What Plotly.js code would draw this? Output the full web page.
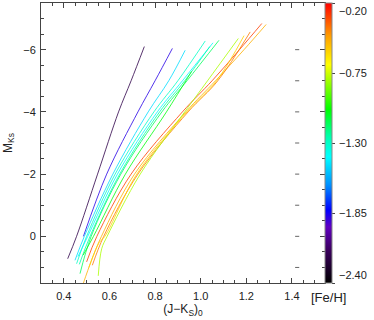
<!DOCTYPE html>
<html>
<head>
<meta charset="utf-8">
<script src="https://cdn.plot.ly/plotly-3.0.1.min.js"></script>
<style>
  html, body { margin: 0; padding: 0; background: #fff; }
  #chart { width: 374px; height: 320px; }
</style>
</head>
<body>
<div id="chart"></div>
<script>
// RGB fiducial lines in the (J-Ks)0 vs M_Ks plane, coloured by cluster [Fe/H].

// [Fe/H] of each line
const FEH = [-2.20, -1.88, -1.48, -1.30, -1.42, -1.15, -1.25, -1.05, -0.30, -0.50, -0.40, -0.80, -0.58];

// colour (J-Ks)0 along each line
const LINE_X = [
  [0.417, 0.456, 0.548, 0.640, 0.695, 0.753],
  [0.486, 0.588, 0.725, 0.800, 0.876],
  [0.449, 0.490, 0.615, 0.770, 0.860, 0.932],
  [0.456, 0.500, 0.625, 0.795, 0.900, 1.020],
  [0.462, 0.505, 0.635, 0.810, 0.920, 1.054],
  [0.471, 0.520, 0.650, 0.830, 0.940, 1.080],
  [0.468, 0.515, 0.645, 0.820, 0.930, 1.040],
  [0.485, 0.530, 0.670, 0.850, 0.960],
  [0.500, 0.545, 0.695, 0.920, 1.050, 1.170, 1.268],
  [0.486, 0.520, 0.565, 0.710, 0.935, 1.065, 1.190, 1.287],
  [0.525, 0.575, 0.725, 0.945, 1.075, 1.217],
  [0.551, 0.566, 0.590, 0.735, 0.930, 1.030, 1.165],
  [0.510, 0.555, 0.580, 0.720, 0.940, 1.070, 1.190]
];

// absolute magnitude M_Ks along each line
const LINE_M = [
  [0.72, 0.0, -2.0, -4.0, -5.0, -6.10],
  [0.0, -2.0, -4.0, -5.0, -6.04],
  [0.77, 0.0, -2.0, -4.0, -5.0, -5.98],
  [0.88, 0.0, -2.0, -4.0, -5.0, -6.28],
  [0.65, 0.0, -2.0, -4.0, -5.0, -6.22],
  [1.20, 0.0, -2.0, -4.0, -5.0, -6.30],
  [0.90, 0.0, -2.0, -4.0, -5.0, -6.10],
  [0.60, 0.0, -2.0, -4.0, -5.30],
  [0.82, 0.0, -2.0, -4.0, -5.0, -6.0, -6.84],
  [1.50, 0.80, 0.0, -2.0, -4.0, -5.0, -6.0, -6.81],
  [0.93, 0.0, -2.0, -4.0, -5.0, -6.57],
  [1.27, 0.40, 0.0, -2.0, -4.0, -5.0, -6.36],
  [1.00, 0.20, 0.0, -2.0, -4.0, -5.0, -6.45]
];

const FEH_TICKS = [-2.40, -1.85, -1.30, -0.75, -0.20];
const X_TICKS = [0.4, 0.6, 0.8, 1.0, 1.2, 1.4];
const Y_TICKS = [-6, -4, -2, 0];
const RIGHT_DASH_M = [-6, -5, -4, -3, -2, -1, 0, 1];

const FEH_MIN = -2.40, FEH_MAX = -0.20;
const SCALE = [
  [0.00, '#000000'], [0.12, '#3c0060'], [0.20, '#6000c0'], [0.26, '#0000ff'],
  [0.35, '#0090ff'], [0.45, '#00ffff'], [0.52, '#00ffb0'], [0.62, '#00ff00'],
  [0.78, '#ffff00'], [0.88, '#ffa000'], [1.00, '#ff0000']
];

function hexRgb(h) {
  return [1, 3, 5].map(i => parseInt(h.slice(i, i + 2), 16));
}
function fehColor(v) {
  const t = Math.min(1, Math.max(0, (v - FEH_MIN) / (FEH_MAX - FEH_MIN)));
  for (let i = 1; i < SCALE.length; i++) {
    if (t <= SCALE[i][0]) {
      const f = (t - SCALE[i - 1][0]) / (SCALE[i][0] - SCALE[i - 1][0]);
      const a = hexRgb(SCALE[i - 1][1]), b = hexRgb(SCALE[i][1]);
      const c = a.map((ai, k) => Math.round(ai + f * (b[k] - ai)));
      return 'rgb(' + c.join(',') + ')';
    }
  }
  return SCALE[SCALE.length - 1][1];
}

const traces = FEH.map((feh, i) => ({
  x: LINE_X[i], y: LINE_M[i], type: 'scatter', mode: 'lines',
  line: { color: fehColor(feh), width: 0.8, shape: 'spline', smoothing: 1 },
  hoverinfo: 'skip'
}));

// dummy trace that only carries the colour bar; its labels are annotations below
traces.push({
  x: [null, null], y: [null, null], type: 'scatter', mode: 'markers',
  hoverinfo: 'skip',
  marker: {
    color: [FEH_MIN, FEH_MAX], cmin: FEH_MIN, cmax: FEH_MAX, colorscale: SCALE,
    showscale: true,
    colorbar: {
      x: 1, xanchor: 'left', xpad: 0, y: 0.5, yanchor: 'middle', ypad: 0,
      len: 1, lenmode: 'fraction', thickness: 7, thicknessmode: 'pixels',
      outlinewidth: 1, outlinecolor: '#888', borderwidth: 0,
      tickvals: FEH_TICKS, ticks: 'outside', ticklen: 3, tickcolor: '#444',
      showticklabels: false
    }
  }
});

const shapes = RIGHT_DASH_M.map(m => ({
  type: 'line', xref: 'x', yref: 'y', x0: 1.414, x1: 1.432, y0: m, y1: m,
  line: { color: '#666', width: 1 }
}));

const cbLabels = FEH_TICKS.map((v, i) => ({
  text: '\u2212' + Math.abs(v).toFixed(2),
  xref: 'paper', yref: 'paper', x: 1.042, y: (v - FEH_MIN) / (FEH_MAX - FEH_MIN),
  xanchor: 'left', yanchor: i === 0 ? 'bottom' : (i === FEH_TICKS.length - 1 ? 'top' : 'middle'),
  showarrow: false, font: { size: 11, color: '#222' }
}));

const axisStyle = {
  showline: true, linecolor: '#444', linewidth: 1, mirror: 'ticks',
  ticks: 'inside', ticklen: 5, tickcolor: '#444',
  showgrid: false, zeroline: false, automargin: false,
  tickfont: { size: 11, color: '#222' }
};

const layout = {
  width: 374, height: 320,
  margin: { l: 41, r: 49, t: 3, b: 37 },
  paper_bgcolor: '#fff', plot_bgcolor: '#fff',
  font: { family: 'Liberation Sans, Arial, sans-serif', size: 11, color: '#222' },
  showlegend: false,
  xaxis: Object.assign({}, axisStyle, {
    range: [0.3, 1.545], tickvals: X_TICKS, tickformat: '.1f',
    minor: { dtick: 0.05, tick0: 0.3, ticks: 'inside', ticklen: 3, tickcolor: '#444' },
    ticklabelstandoff: 3,
    title: { text: '(J\u2212K<sub>S</sub>)<sub>0</sub>', standoff: 2, font: { size: 12 } }
  }),
  yaxis: Object.assign({}, axisStyle, {
    range: [1.5, -7.5], tickvals: Y_TICKS,
    minor: { dtick: 0.5, tick0: 0, ticks: 'inside', ticklen: 3, tickcolor: '#444' },
    ticklabelstandoff: 2,
    title: { text: 'M<sub>Ks</sub>', standoff: 8, font: { size: 12 } }
  }),
  shapes: shapes,
  annotations: cbLabels.concat([{
    text: '[Fe/H]', xref: 'paper', yref: 'paper', x: 1.014, y: -0.05,
    xanchor: 'center', yanchor: 'middle', showarrow: false,
    font: { size: 13, color: '#222' }
  }])
};

Plotly.newPlot('chart', traces, layout, { staticPlot: true, displayModeBar: false });
</script>
</body>
</html>
